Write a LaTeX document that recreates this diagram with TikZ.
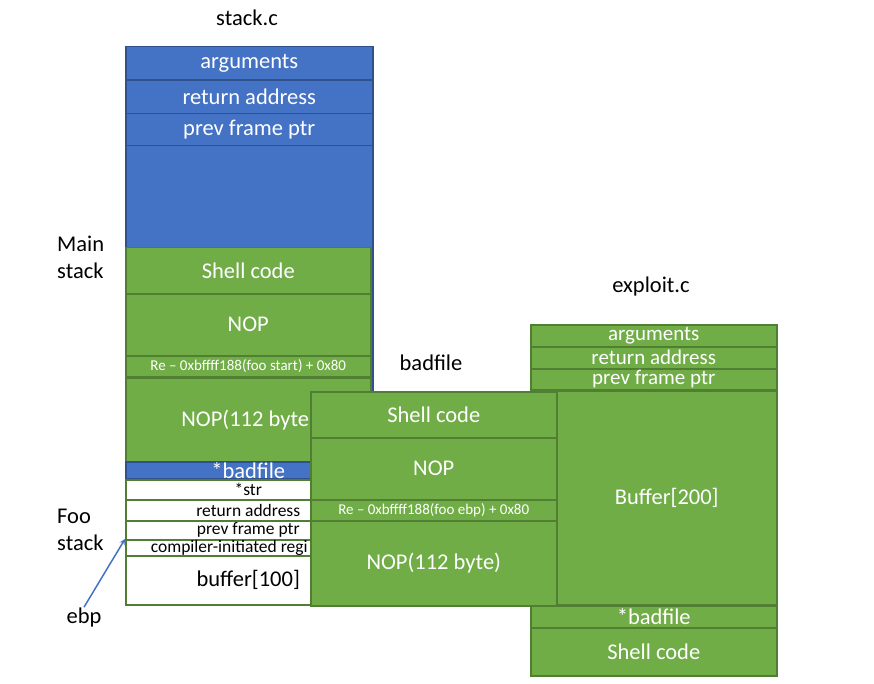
\documentclass[tikz,border=0pt]{standalone}
\usepackage{fontspec}
\setmainfont{Carlito}
\definecolor{blueface}{HTML}{4472C4}
\definecolor{blueedge}{HTML}{2F528F}
\definecolor{greenface}{HTML}{70AD47}
\definecolor{greenedge}{HTML}{507E32}
\tikzset{
  cell/.style={rectangle, anchor=north west, inner sep=0pt, line width=1.5pt, font=\fontsize{22.5}{27}\selectfont},
  bluecell/.style={cell, draw=blueedge, fill=blueface, text=white},
  greencell/.style={cell, draw=greenedge, fill=greenface, text=white},
  whitecell/.style={cell, draw=greenedge, fill=white, text=black},
  rowtxt/.style={font=\fontsize{21}{24}\selectfont},
  smalltxt/.style={font=\fontsize{17.5}{20}\selectfont},
  tinytxt/.style={font=\fontsize{15}{18}\selectfont},
  caption/.style={font=\fontsize{22.5}{27}\selectfont, text=black, inner sep=0pt},
  arrow/.style={line width=1.5pt, draw=blueface, ->, >=stealth}
}

\begin{document}
\begin{tikzpicture}[x=1pt,y=-1pt]
\useasboundingbox (0,0) rectangle (874,684);

% stack.c (main stack)
\node (stackc) [caption] at (247,18) {stack.c};
\node (mainstack) [bluecell, minimum width=247pt, minimum height=432pt] at (125,46) {};
\node (argsA) [bluecell, minimum width=247pt, minimum height=33pt] at (125,46) {arguments};
\node (retA) [bluecell, minimum width=247pt, minimum height=33pt] at (125,80) {return address};
\node (prevA) [bluecell, minimum width=247pt, minimum height=32pt] at (125,113) {prev frame ptr};
\node (shellA) [greencell, minimum width=245pt, minimum height=46pt] at (125,247) {Shell code};
\node (nopA) [greencell, minimum width=245pt, minimum height=62pt] at (125,293) {NOP};
\node (reA) [greencell, tinytxt, minimum width=245pt, minimum height=21pt] at (125,355) {Re – 0xbffff188(foo start) + 0x80};
\node (nopbigA) [greencell, minimum width=245pt, minimum height=84pt] at (125,377) {NOP(112 byte\hspace*{6pt}};
\node (badptrA) [bluecell, minimum width=245pt, minimum height=17pt] at (125,461) {*badfile};

% foo stack
\node (strF) [whitecell, smalltxt, minimum width=245pt, minimum height=20pt] at (125,479) {*str};
\node (retF) [whitecell, smalltxt, minimum width=245pt, minimum height=21pt] at (125,499) {return address};
\node (prevF) [whitecell, smalltxt, minimum width=245pt, minimum height=19pt] at (125,520) {prev frame ptr};
\node (compF) [whitecell, smalltxt, minimum width=245pt, minimum height=16pt] at (125,539) {compiler-initiated regi\hspace*{38pt}};
\node (bufF) [whitecell, minimum width=245pt, minimum height=49pt] at (125,555) {buffer[100]};

\node (mainlbl) [caption, anchor=west, align=left] at (57,257) {Main\\stack};
\node (foolbl) [caption, anchor=west, align=left] at (57,530) {Foo\\stack};
\node (ebp) [caption] at (84,617) {ebp};
\draw [arrow] (ebp.north) -- (compF.north west);

% exploit.c
\node (exploitc) [caption] at (651,287) {exploit.c};
\node (argsE) [greencell, rowtxt, minimum width=246pt, minimum height=22pt] at (530,324) {arguments};
\node (retE) [greencell, rowtxt, minimum width=246pt, minimum height=22pt] at (530,346) {return address};
\node (prevE) [greencell, rowtxt, minimum width=246pt, minimum height=21pt] at (530,368) {prev frame ptr};
\node (bufE) [greencell, minimum width=246pt, minimum height=214pt] at (530,390) {\hspace*{26pt}Buffer[200]};
\node (badE) [greencell, minimum width=246pt, minimum height=22pt] at (530,605) {*badfile};
\node (shellE) [greencell, minimum width=246pt, minimum height=48pt] at (530,627) {Shell code};

% badfile
\node (badlbl) [caption] at (431,363) {badfile};
\node (shellB) [greencell, minimum width=246pt, minimum height=46pt] at (310,391) {Shell code};
\node (nopB) [greencell, minimum width=246pt, minimum height=62pt] at (310,437) {NOP};
\node (reB) [greencell, tinytxt, minimum width=246pt, minimum height=21pt] at (310,499) {Re – 0xbffff188(foo ebp) + 0x80};
\node (nopbigB) [greencell, minimum width=246pt, minimum height=85pt] at (310,520) {NOP(112 byte)};
\end{tikzpicture}
\end{document}
